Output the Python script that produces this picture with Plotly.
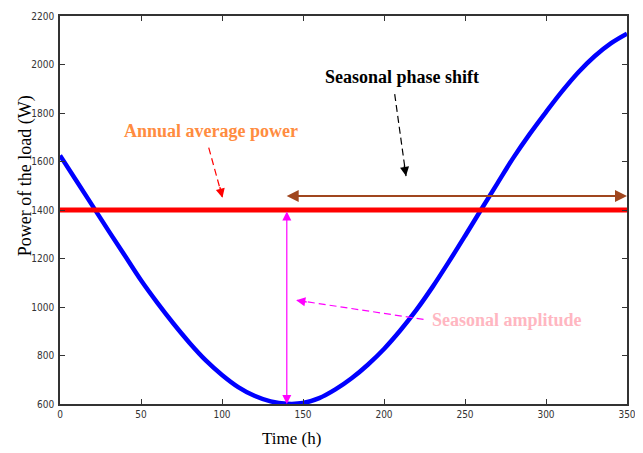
import plotly.graph_objects as go

# Data
time_h = [0, 10, 20, 30, 40, 50, 60, 70, 80, 90, 100, 110, 120, 130, 140, 150, 160, 170,
          180, 190, 200, 210, 220, 230, 240, 250, 260, 270, 280, 290, 300, 310, 320, 330, 340, 350]
power_w = [1625, 1522, 1418, 1314, 1212, 1110, 1018, 932, 852, 780, 720, 670, 634, 611, 601, 604,
           624, 660, 706, 762, 827, 903, 988, 1083, 1186, 1293, 1402, 1510, 1617, 1714, 1804,
           1890, 1968, 2034, 2087, 2127]
annual_avg = 1400
phase_shift_start = 139
phase_shift_end = 350
phase_arrow_level = 1458
amplitude_t = 140
amplitude_min = 600

x_ticks = [0, 50, 100, 150, 200, 250, 300, 350]
y_ticks = [600, 800, 1000, 1200, 1400, 1600, 1800, 2000, 2200]

SERIF = "Liberation Serif, Times New Roman, serif"
TICKFONT = dict(family="Liberation Sans Narrow, Arial Narrow, DejaVu Sans Condensed, sans-serif",
                size=10, color="#333333")

fig = go.Figure()

# Load power curve
fig.add_trace(go.Scatter(x=time_h, y=power_w, mode="lines",
                         line=dict(color="#0000FF", width=4.5, shape="spline"),
                         showlegend=False, hoverinfo="skip"))
# Annual average line
fig.add_trace(go.Scatter(x=[time_h[0], time_h[-1]], y=[annual_avg, annual_avg], mode="lines",
                         line=dict(color="#FF0000", width=5), showlegend=False, hoverinfo="skip"))

# Dashed arrow shafts (start -> end)
red_arrow = dict(x0=91.8, y0=1657, x1=100.3, y1=1451)
black_arrow = dict(x0=206.6, y0=1878, x1=213.6, y1=1540)
mag_arrow = dict(x0=224.4, y0=949, x1=145.8, y1=1028)

for a, col in [(red_arrow, "#FF0000"), (black_arrow, "#000000"), (mag_arrow, "#FF00FF")]:
    fig.add_trace(go.Scatter(x=[a["x0"], a["x1"]], y=[a["y0"], a["y1"]], mode="lines",
                             line=dict(color=col, width=1.2, dash="7px,4px"),
                             showlegend=False, hoverinfo="skip"))

annotations = []
# Arrow heads for the dashed arrows
for a, col, ax, ay in [(red_arrow, "#FF0000", -3, -12), (black_arrow, "#000000", -2, -12),
                       (mag_arrow, "#FF00FF", 12, 2)]:
    annotations.append(dict(x=a["x1"], y=a["y1"], ax=ax, ay=ay, xref="x", yref="y", text="",
                            showarrow=True, arrowhead=2, arrowsize=1.3, arrowwidth=1.4, arrowcolor=col))

# Brown double arrow (phase shift)
annotations.append(dict(x=phase_shift_end, y=phase_arrow_level, ax=phase_shift_start, ay=phase_arrow_level,
                        xref="x", yref="y", axref="x", ayref="y", text="", showarrow=True,
                        arrowhead=2, startarrowhead=2, arrowside="end+start", arrowsize=1.2,
                        startarrowsize=1.2, arrowwidth=2, arrowcolor="#A0461E"))
# Magenta double arrow (amplitude)
annotations.append(dict(x=amplitude_t, y=amplitude_min, ax=amplitude_t, ay=annual_avg,
                        xref="x", yref="y", axref="x", ayref="y", text="", showarrow=True,
                        arrowhead=2, startarrowhead=2, arrowside="end+start", arrowsize=1.5,
                        startarrowsize=1.5, arrowwidth=1.2, arrowcolor="#FF00FF"))

# Text labels
annotations.append(dict(x=211, y=1948, xref="x", yref="y", text="<b>Seasonal phase shift</b>",
                        showarrow=False, font=dict(family=SERIF, size=18, color="#000000")))
annotations.append(dict(x=93, y=1726, xref="x", yref="y", text="<b>Annual average power</b>",
                        showarrow=False, font=dict(family=SERIF, size=18, color="#FF8C40")))
annotations.append(dict(x=276, y=946, xref="x", yref="y", text="<b>Seasonal amplitude</b>",
                        showarrow=False, font=dict(family=SERIF, size=18, color="#FFB6C1")))

# Axis titles (placed as in the reference)
annotations.append(dict(x=143, y=-0.088, xref="x", yref="paper", text="Time (h)", showarrow=False,
                        xanchor="center", yanchor="middle",
                        font=dict(family=SERIF, size=17, color="#000000")))
annotations.append(dict(x=-0.061, y=0.588, xref="paper", yref="paper", text="Power of the load (W)",
                        showarrow=False, textangle=-90, xanchor="center", yanchor="middle",
                        font=dict(family=SERIF, size=18, color="#000000")))

fig.update_layout(
    width=635, height=445,
    margin=dict(l=52, r=16, t=8, b=49),
    paper_bgcolor="white", plot_bgcolor="white",
    annotations=annotations,
    xaxis=dict(range=[0, 350], tickvals=x_ticks, ticks="inside", ticklen=5, tickcolor="#333333",
               showgrid=False, zeroline=False, showline=True, linecolor="#333333", linewidth=1.5,
               mirror="ticks", tickfont=TICKFONT, automargin=False),
    yaxis=dict(range=[600, 2200], tickvals=y_ticks, ticks="inside", ticklen=5, tickcolor="#333333",
               showgrid=False, zeroline=False, showline=True, linecolor="#333333", linewidth=1.5,
               mirror="ticks", tickfont=TICKFONT, automargin=False, ticklabelstandoff=2),
)

fig.write_html("out.html")
